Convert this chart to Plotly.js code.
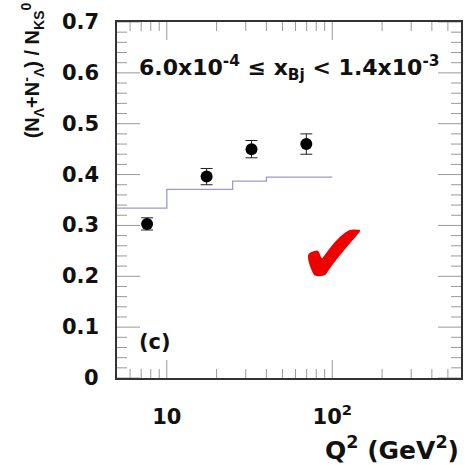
<!DOCTYPE html>
<html><head><meta charset="utf-8">
<script src="https://cdn.plot.ly/plotly-3.0.1.min.js"></script>
<style>html,body{margin:0;padding:0;background:#fff}#c{width:466px;height:465px}</style>
</head><body><div id="c"></div>
<script>
// data
const q2 = [7.6, 17.4, 32.5, 69.7];
const ratio = [0.303, 0.396, 0.450, 0.460];
const ratioErr = [0.012, 0.016, 0.017, 0.020];
const mcQ2Edges = [5, 10, 25, 40, 100];
const mcRatio = [0.334, 0.371, 0.387, 0.395, 0.395];
// axis ticks
const xRange = [5, 600];
const xMajorTicks = [10, 100];
const xMajorText = ['10', '10<sup>2</sup>'];
const xMinorTicks = [6, 7, 8, 9, 20, 30, 40, 50, 60, 70, 80, 90, 200, 300, 400, 500];
const yMajorTicks = [0, 0.1, 0.2, 0.3, 0.4, 0.5, 0.6, 0.7];
const yMajorText = ['0', '0.1', '0.2', '0.3', '0.4', '0.5', '0.6', '0.7'];
const yMinorTicks = [0.02, 0.04, 0.06, 0.08, 0.12, 0.14, 0.16, 0.18, 0.22, 0.24, 0.26, 0.28,
  0.32, 0.34, 0.36, 0.38, 0.42, 0.44, 0.46, 0.48, 0.52, 0.54, 0.56, 0.58, 0.62, 0.64, 0.66, 0.68];

const F = 'DejaVu Sans, sans-serif';
const FL = 'Liberation Sans, Arial, sans-serif';
const TICKC = '#999';
const PLOT_W = 466 - 117 - 5;
const PX_PER_DECADE = PLOT_W / Math.log10(xRange[1] / xRange[0]);

const shapes = [];
function xTick(v, len) {
  shapes.push({type: 'line', xref: 'x', yref: 'paper', ysizemode: 'pixel', yanchor: 0, x0: v, x1: v, y0: 0, y1: len, line: {color: TICKC, width: 1}});
  shapes.push({type: 'line', xref: 'x', yref: 'paper', ysizemode: 'pixel', yanchor: 1, x0: v, x1: v, y0: 0, y1: -len, line: {color: TICKC, width: 1}});
}
xMajorTicks.forEach(v => xTick(v, 18));
xMinorTicks.forEach(v => xTick(v, 9));

// y ticks as line segments through the axis scales (left and right frame edges)
const yTickX = [], yTickY = [];
function yTick(v, len) {
  const dl = len / PX_PER_DECADE;
  yTickX.push(xRange[0], xRange[0] * Math.pow(10, dl), null, xRange[1], xRange[1] / Math.pow(10, dl), null);
  yTickY.push(v, v, null, v, v, null);
}
yMajorTicks.forEach(v => yTick(v, 23));
yMinorTicks.forEach(v => yTick(v, 10));

const yLabelAnn = yMajorTicks.map((v, i) => ({
  xref: 'paper', yref: 'y', x: 0, y: v, xanchor: 'right', yanchor: 'middle', xshift: -16, showarrow: false,
  text: yMajorText[i], font: {family: F, size: 21, color: '#111', weight: 'bold'}
}));

const traces = [
  {x: yTickX, y: yTickY, mode: 'lines', line: {color: TICKC, width: 1}, connectgaps: false, hoverinfo: 'skip', cliponaxis: false},
  {x: mcQ2Edges, y: mcRatio, mode: 'lines', line: {shape: 'hv', color: '#9a9ad0', width: 1.3}, hoverinfo: 'skip'},
  {x: q2, y: ratio, mode: 'markers', marker: {color: '#000', size: 12},
   error_y: {type: 'data', array: ratioErr, color: '#222', thickness: 1, width: 6}}
];
const layout = {
  width: 466, height: 465, showlegend: false,
  paper_bgcolor: '#fff', plot_bgcolor: '#fff',
  margin: {l: 117, r: 5, t: 22, b: 87},
  shapes: shapes,
  xaxis: {type: 'log', range: [Math.log10(xRange[0]), Math.log10(xRange[1])],
    tickmode: 'array', tickvals: xMajorTicks, ticktext: xMajorText,
    ticks: '', ticklabelstandoff: 19,
    showline: true, linecolor: '#333', linewidth: 2, mirror: true,
    showgrid: false, zeroline: false,
    tickfont: {family: F, size: 21, color: '#111', weight: 'bold'}},
  yaxis: {range: [0, 0.7], tickmode: 'array', tickvals: yMajorTicks, showticklabels: false,
    ticks: '',
    showline: true, linecolor: '#333', linewidth: 2, mirror: true,
    showgrid: false, zeroline: false},
  annotations: yLabelAnn.concat([
    {xref: 'paper', yref: 'paper', x: 0.058, y: 0.87, xanchor: 'left', yanchor: 'middle', showarrow: false,
     text: '6.0x10<sup>-4</sup> ≤ x<sub>Bj</sub> < 1.4x10<sup>-3</sup>', font: {family: F, size: 22, color: '#111', weight: 'bold'}},
    {xref: 'paper', yref: 'paper', x: 0.058, y: 0.101, xanchor: 'left', yanchor: 'middle', showarrow: false,
     text: '(c)', font: {family: F, size: 21, color: '#111', weight: 'bold'}},
    {xref: 'paper', yref: 'paper', x: 0.632, y: 0.348, xanchor: 'center', yanchor: 'middle', showarrow: false,
     text: '✔', font: {family: 'DejaVu Sans', size: 86, color: '#ee0000'}},
    {xref: 'paper', yref: 'paper', x: 1.0, y: -0.197, xanchor: 'right', yanchor: 'middle', showarrow: false,
     text: 'Q<sup>2</sup> (GeV<sup>2</sup>)', font: {family: F, size: 25, color: '#111', weight: 'bold'}},
    {xref: 'paper', yref: 'paper', x: -0.245, y: 1.06, xanchor: 'center', yanchor: 'top', textangle: -90, showarrow: false,
     text: '(N<sub>Λ</sub>+N<sup>-</sup><sub>Λ</sub>) / N<sub>KS</sub><sup>0</sup>', font: {family: FL, size: 20, color: '#111', weight: 'bold'}}
  ])
};
Plotly.newPlot('c', traces, layout, {displayModeBar: false});
</script></body></html>
